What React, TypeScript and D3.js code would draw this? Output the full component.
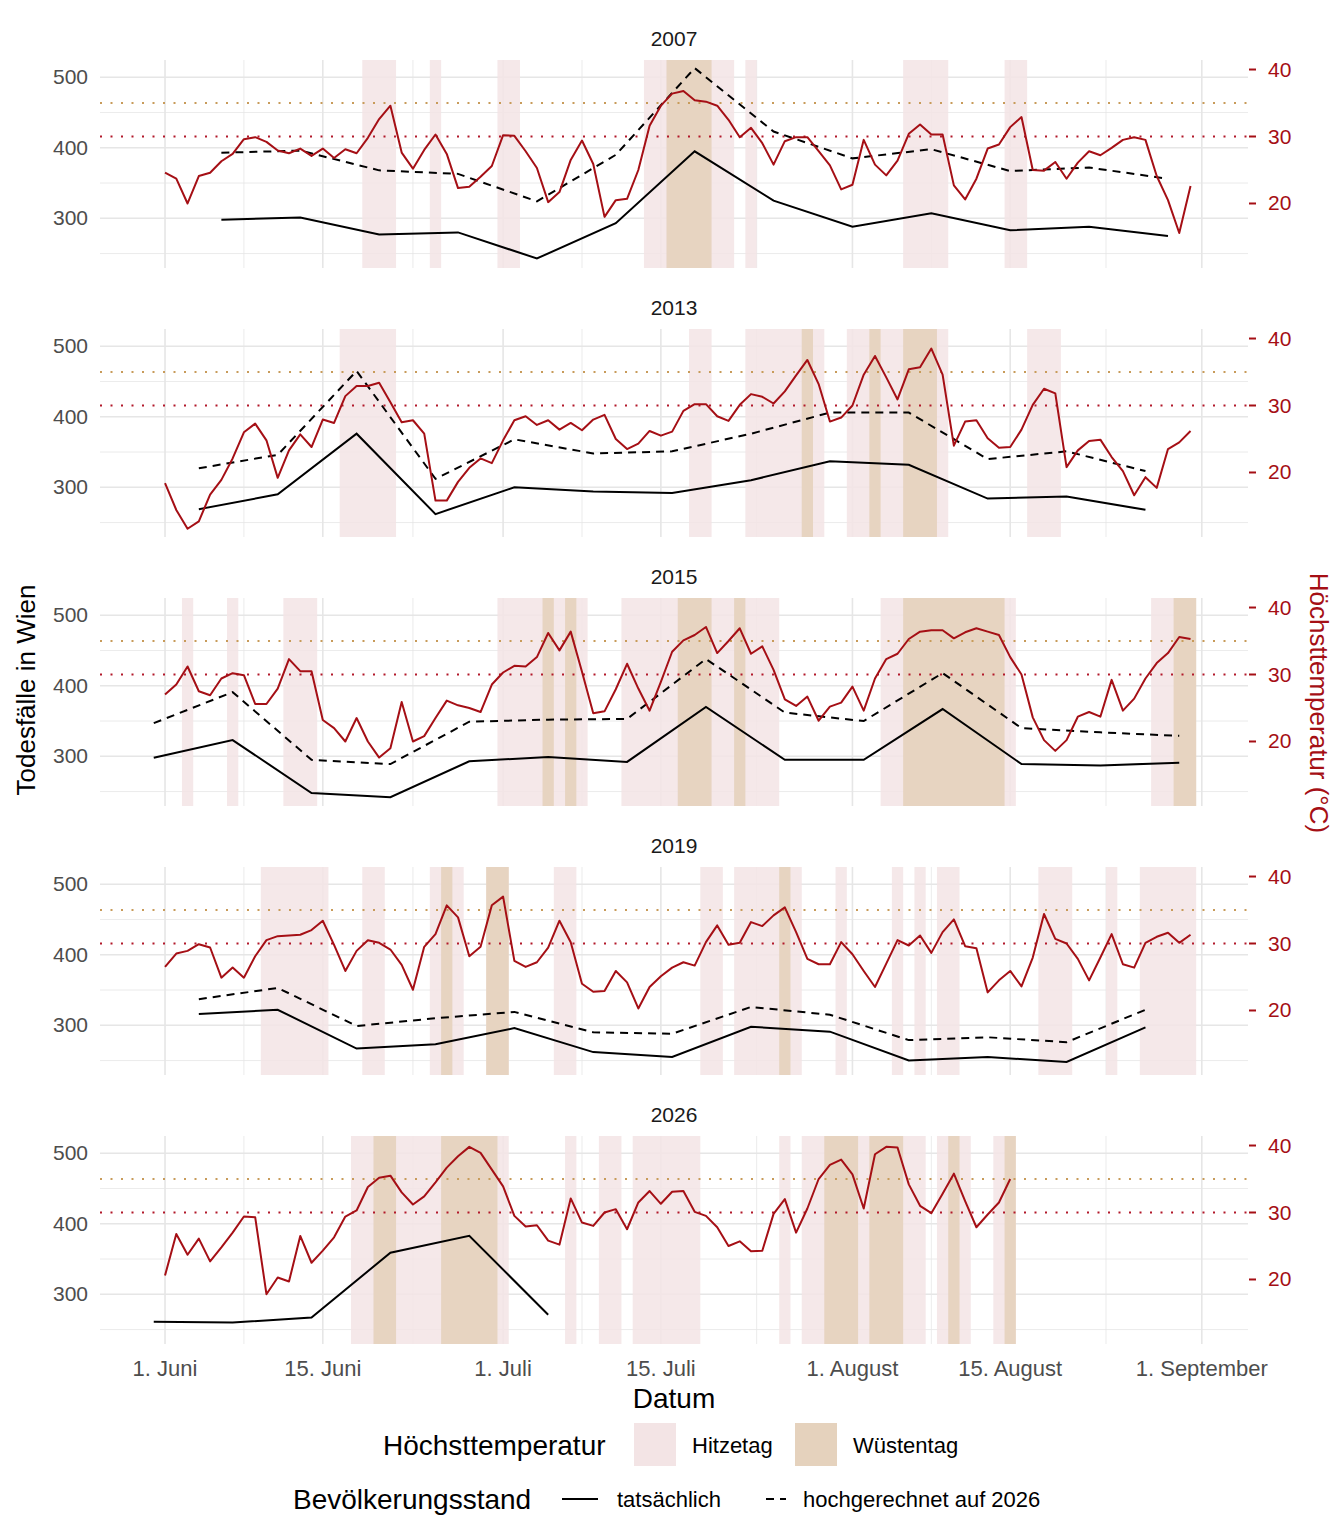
import * as d3 from 'd3'

// Tagesindex: 0 = 1. Juni
const YEARS = ['2007', '2013', '2015', '2019', '2026']

const TEMP: number[][] = [
  [24.6, 23.7, 20.0, 24.1, 24.6, 26.3, 27.4, 29.6, 29.9, 29.2, 27.9, 27.5, 28.2, 27.1, 28.2, 26.8, 28.1, 27.5, 29.8, 32.6, 34.6, 27.6, 25.2, 28.0, 30.3, 27.4, 22.3, 22.5, 24.0, 25.6, 30.2, 30.1, 27.8, 25.3, 20.2, 21.7, 26.5, 29.4, 25.9, 18.0, 20.5, 20.7, 25.0, 31.6, 34.6, 36.4,
    36.8, 35.4, 35.2, 34.6, 32.5, 29.9, 31.3, 29.0, 25.8, 29.3, 29.9, 29.9, 27.8, 25.7, 22.1, 22.8, 29.5, 25.8, 24.2, 26.4, 30.4, 31.8, 30.3, 30.3, 22.7, 20.6, 23.7, 28.2, 28.8, 31.4, 32.9, 25.0, 24.9, 26.2, 23.7, 26.1, 27.8, 27.2, 28.3, 29.5, 29.9, 29.5, 24.1, 20.5, 15.6, 22.6],
  [18.4, 14.4, 11.6, 12.7, 16.7, 18.9, 22.1, 26.0, 27.3, 24.8, 19.2, 23.3, 25.7, 23.8, 27.9, 27.4, 31.4, 32.9, 32.9, 33.4, 30.5, 27.5, 27.8, 25.8, 15.8, 15.8, 18.6, 20.7, 22.1, 21.4, 24.8, 27.8, 28.4, 27.1, 27.8, 26.4, 27.4, 26.3, 27.9, 28.6, 25.0, 23.5, 24.3, 26.2, 25.5, 26.1,
    29.2, 30.2, 30.2, 28.4, 27.7, 30.1, 31.7, 31.3, 30.3, 32.1, 34.5, 36.8, 33.2, 27.6, 28.2, 30.0, 34.6, 37.4, 34.2, 30.9, 35.4, 35.7, 38.5, 34.6, 24.0, 27.6, 27.8, 25.1, 23.7, 23.8, 26.4, 30.1, 32.5, 31.8, 20.8, 23.3, 24.7, 24.9, 22.3, 20.2, 16.6, 19.3, 17.7, 23.5, 24.5, 26.2],
  [27.0, 28.5, 31.2, 27.5, 26.9, 29.4, 30.2, 29.9, 25.6, 25.6, 27.9, 32.3, 30.5, 30.5, 23.2, 22.0, 20.0, 23.5, 20.0, 17.6, 19.0, 25.9, 20.0, 20.8, 23.5, 26.1, 25.4, 25.0, 24.4, 28.5, 30.3, 31.3, 31.2, 32.6, 36.2, 33.6, 36.4, 30.4, 24.2, 24.5, 27.8, 31.6, 27.9, 24.6, 28.9, 33.4,
    35.1, 35.9, 37.1, 33.2, 35.0, 36.9, 33.1, 34.2, 30.7, 26.3, 25.3, 26.7, 23.1, 25.2, 25.8, 28.2, 24.6, 29.4, 32.3, 33.1, 35.3, 36.4, 36.6, 36.6, 35.4, 36.3, 36.9, 36.4, 35.9, 32.6, 30.0, 23.6, 20.2, 18.6, 20.2, 23.7, 24.4, 23.7, 29.2, 24.6, 26.4, 29.4, 31.7, 33.2, 35.6, 35.3],
  [26.5, 28.5, 28.9, 29.9, 29.4, 24.9, 26.4, 24.9, 28.1, 30.5, 31.1, 31.2, 31.3, 32.0, 33.4, 29.8, 25.9, 28.9, 30.5, 30.1, 29.1, 26.8, 23.1, 29.5, 31.4, 35.7, 33.9, 28.1, 29.5, 35.7, 37.0, 27.4, 26.5, 27.2, 29.4, 33.4, 30.2, 24.0, 22.8, 22.9, 25.9, 24.2, 20.3, 23.5, 25.1, 26.4,
    27.2, 26.7, 30.2, 32.7, 29.8, 30.1, 33.2, 32.6, 34.2, 35.4, 31.7, 27.7, 26.9, 26.9, 30.2, 28.4, 25.9, 23.5, 27.0, 30.5, 29.7, 31.2, 28.6, 31.7, 33.6, 29.6, 29.3, 22.7, 24.5, 25.9, 23.6, 27.9, 34.4, 30.7, 30.0, 27.7, 24.5, 27.9, 31.4, 26.9, 26.4, 30.1, 31.0, 31.6, 30.1, 31.3],
  [20.6, 26.8, 23.7, 26.1, 22.7, 24.8, 27.0, 29.4, 29.3, 17.8, 20.3, 19.7, 26.5, 22.5, 24.3, 26.3, 29.4, 30.3, 33.8, 35.2, 35.5, 33.0, 31.2, 32.4, 34.5, 36.7, 38.4, 39.8, 38.9, 36.4, 33.9, 29.5, 27.9, 28.1, 25.8, 25.2, 32.1, 28.5, 28.0, 30.0, 30.5, 27.5, 31.5, 33.2, 31.3, 33.1,
    33.2, 30.1, 29.5, 27.8, 25.0, 25.7, 24.2, 24.3, 29.8, 32.0, 27.0, 30.6, 35.0, 37.1, 37.9, 35.7, 30.6, 38.7, 39.8, 39.7, 34.2, 31.0, 29.9, 32.8, 35.8, 31.7, 27.8, 29.7, 31.5, 35.0],
]

// wöchentliche Todesfälle, erster Tag je Jahr
const DEATH_START = [5, 3, -1, 3, -1]
const DEATHS_ACTUAL: number[][] = [
  [298, 301, 277, 280, 243, 293, 395, 325, 288, 307, 283, 288, 275],
  [269, 290, 376, 262, 300, 294, 292, 310, 337, 332, 284, 287, 268],
  [298, 323, 248, 242, 293, 299, 292, 370, 295, 295, 367, 289, 287, 291],
  [316, 322, 267, 273, 296, 262, 255, 298, 291, 250, 255, 248, 297],
  [261, 260, 267, 359, 383, 271],
]
const DEATHS_PROJECTED: number[][] = [
  [393, 396, 368, 363, 324, 390, 513, 423, 385, 398, 367, 372, 356],
  [327, 346, 465, 312, 368, 348, 351, 376, 406, 406, 340, 351, 323],
  [347, 391, 295, 289, 349, 352, 353, 438, 362, 350, 418, 340, 334, 329],
  [337, 353, 299, 310, 319, 290, 288, 326, 315, 279, 283, 276, 322],
  [],
]

// Hitzetage (>= 30 °C) und Wüstentage (>= 35 °C) als Tagesbereiche
const HITZE: [number, number][][] = [
  [[18, 20], [24, 24], [30, 31], [43, 50], [52, 52], [66, 69], [75, 76]],
  [[16, 20], [47, 48], [52, 58], [61, 69], [77, 79]],
  [[2, 2], [6, 6], [11, 13], [30, 37], [41, 54], [64, 75], [88, 91]],
  [[9, 14], [18, 19], [24, 26], [29, 30], [35, 36], [48, 49], [51, 56], [60, 60], [65, 65], [67, 67], [69, 70], [78, 80], [84, 84], [87, 91]],
  [[17, 30], [36, 36], [39, 40], [42, 47], [55, 55], [57, 67], [69, 71], [74, 75]],
]
const WUESTE: [number, number][][] = [
  [[45, 48]],
  [[57, 57], [63, 63], [66, 68]],
  [[34, 34], [36, 36], [46, 48], [51, 51], [66, 74], [90, 91]],
  [[25, 25], [29, 30], [55, 55]],
  [[19, 20], [25, 29], [59, 61], [63, 65], [70, 70], [75, 75]],
]

const X_TICKS = [0, 14, 30, 44, 61, 75, 92]
const X_LABELS = ['1. Juni', '15. Juni', '1. Juli', '15. Juli', '1. August', '15. August', '1. September']
const X_MINOR = [7, 22, 37, 52.5, 68, 83.5]
const Y_TICKS = [300, 400, 500]
const Y_MINOR = [250, 350, 450]
const T_TICKS = [20, 30, 40]
const T_HITZE = 30
const T_WUESTE = 35

const FONT = '"Liberation Sans", Arial, sans-serif'
const RED = '#a50f15'
const PINK = '#f3e4e5'
const SAND = '#e5d2bd'
const GRID = '#e6e6e6'
const TXT = '#4d4d4d'

const x = d3.scaleLinear().domain([-5.77, 96.1]).range([100, 1248])
// Temperatur wird auf die Todesfall-Achse abgebildet
const tempToDeaths = (t: number) => 131 + 9.5 * t

export default function App() {
  const W = 1344
  const H = 1536
  const step = 269

  return (
    <svg width={W} height={H} style={{ position: 'absolute', left: 0, top: 0, background: '#fff' }} fontFamily={FONT}>
      {YEARS.map((year, k) => {
        const top = 60 + k * step
        const bottom = 268 + k * step
        const y = d3.scaleLinear().domain([229.5, 524.5]).range([bottom, top])
        const yt = (t: number) => y(tempToDeaths(t))
        const tempLine = d3.line<number>().x((_, i) => x(i)).y(t => yt(t))
        const deathLine = d3.line<number>().x((_, i) => x(DEATH_START[k] + i * 7)).y(v => y(v))
        return (
          <g key={year}>
            <text x={674} y={top - 14} textAnchor="middle" fontSize={21} fill="#1a1a1a">{year}</text>
            {Y_MINOR.map(v => <line key={'ym' + v} x1={100} x2={1248} y1={y(v)} y2={y(v)} stroke={GRID} strokeWidth={0.8} />)}
            {Y_TICKS.map(v => <line key={'y' + v} x1={100} x2={1248} y1={y(v)} y2={y(v)} stroke={GRID} strokeWidth={1.6} />)}
            {X_MINOR.map(d => <line key={'xm' + d} x1={x(d)} x2={x(d)} y1={top} y2={bottom} stroke={GRID} strokeWidth={0.8} />)}
            {X_TICKS.map(d => <line key={'x' + d} x1={x(d)} x2={x(d)} y1={top} y2={bottom} stroke={GRID} strokeWidth={1.6} />)}
            {HITZE[k].map(([a, b]) => (
              <rect key={'h' + a} x={x(a - 0.5)} width={x(b + 0.5) - x(a - 0.5)} y={top} height={bottom - top} fill={PINK} opacity={0.85} />
            ))}
            {WUESTE[k].map(([a, b]) => (
              <rect key={'w' + a} x={x(a - 0.5)} width={x(b + 0.5) - x(a - 0.5)} y={top} height={bottom - top} fill={SAND} opacity={0.9} />
            ))}
            <line x1={100} x2={1248} y1={yt(T_WUESTE)} y2={yt(T_WUESTE)} stroke="#c89b5a" strokeWidth={2.2} strokeDasharray="2 8.5" />
            <line x1={100} x2={1248} y1={yt(T_HITZE)} y2={yt(T_HITZE)} stroke="#b2182b" strokeWidth={2.2} strokeDasharray="2 8.5" />
            <path d={deathLine(DEATHS_ACTUAL[k]) ?? ''} fill="none" stroke="#000" strokeWidth={2} />
            {DEATHS_PROJECTED[k].length > 0 && (
              <path d={deathLine(DEATHS_PROJECTED[k]) ?? ''} fill="none" stroke="#000" strokeWidth={2} strokeDasharray="8 6" />
            )}
            <path d={tempLine(TEMP[k]) ?? ''} fill="none" stroke={RED} strokeWidth={2} strokeLinejoin="round" />
            {Y_TICKS.map(v => (
              <text key={'yl' + v} x={88} y={y(v) + 7} textAnchor="end" fontSize={21} fill={TXT}>{v}</text>
            ))}
            {T_TICKS.map(t => (
              <g key={'tl' + t}>
                <line x1={1249} x2={1256} y1={yt(t)} y2={yt(t)} stroke={RED} strokeWidth={2} />
                <text x={1268} y={yt(t) + 7} fontSize={21} fill={RED}>{t}</text>
              </g>
            ))}
          </g>
        )
      })}
      {X_TICKS.map((d, i) => (
        <text key={'xl' + d} x={x(d)} y={1376} textAnchor="middle" fontSize={22} fill={TXT}>{X_LABELS[i]}</text>
      ))}
      <text x={674} y={1408} textAnchor="middle" fontSize={28} fill="#000">Datum</text>
      <text transform="translate(35,690) rotate(-90)" textAnchor="middle" fontSize={26} fill="#000">Todesfälle in Wien</text>
      <text transform="translate(1310,703) rotate(90)" textAnchor="middle" fontSize={26} fill={RED}>Höchsttemperatur (°C)</text>

      <text x={383} y={1455} fontSize={28} fill="#000">Höchsttemperatur</text>
      <rect x={634} y={1423} width={42} height={43} fill={PINK} />
      <text x={692} y={1453} fontSize={22} fill="#000">Hitzetag</text>
      <rect x={795} y={1423} width={42} height={43} fill={SAND} />
      <text x={853} y={1453} fontSize={22} fill="#000">Wüstentag</text>

      <text x={293} y={1509} fontSize={28} fill="#000">Bevölkerungsstand</text>
      <line x1={562} x2={598} y1={1499} y2={1499} stroke="#000" strokeWidth={2} />
      <text x={617} y={1507} fontSize={22} fill="#000">tatsächlich</text>
      <line x1={766} x2={786} y1={1499} y2={1499} stroke="#000" strokeWidth={2} strokeDasharray="8 6" />
      <text x={803} y={1507} fontSize={22} fill="#000">hochgerechnet auf 2026</text>
    </svg>
  )
}
